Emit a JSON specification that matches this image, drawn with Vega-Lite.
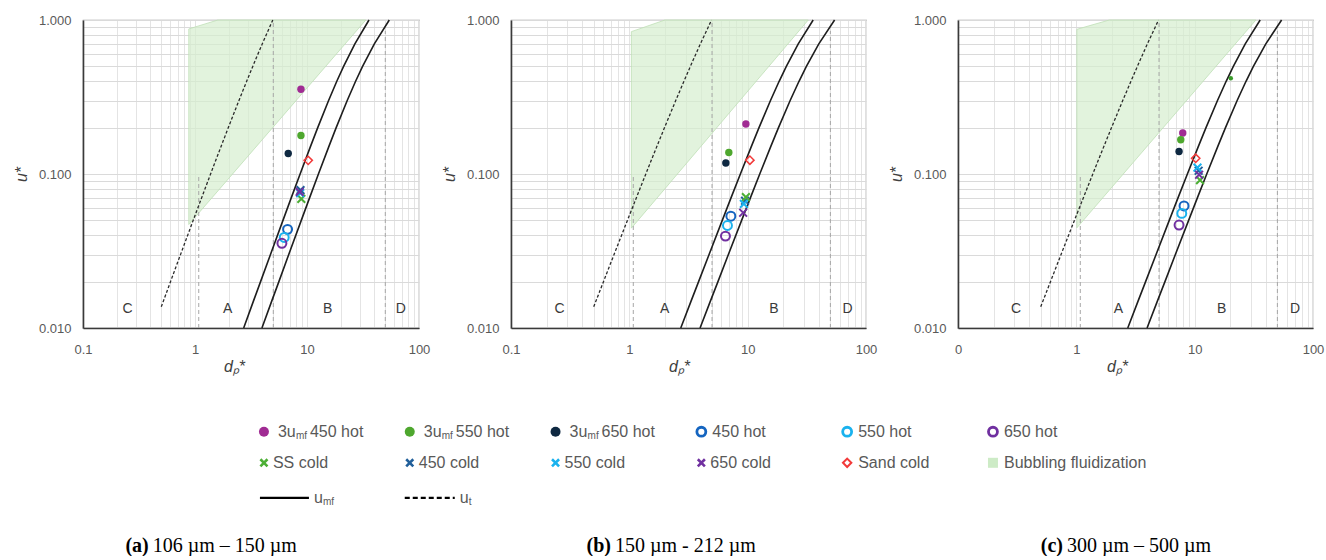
{
"$schema":"https://vega.github.io/schema/vega-lite/v6.json",
"background":"white",
"padding":{"left":12,"top":13,"right":0,"bottom":0},
"config":{
 "font":"Liberation Sans",
 "view":{"stroke":"#9a9a9a","strokeWidth":1.2},
 "legend":{"disable":true},
 "axis":{"labelFont":"Liberation Sans","labelFontSize":13,"labelColor":"#595959","titleFont":"Liberation Sans","titleFontSize":16,"titleFontStyle":"italic","titleFontWeight":"normal","titleColor":"#404040","ticks":false,"domainColor":"#3a3a3a","domainWidth":1.6,"gridColor":"#dadada","gridWidth":1,"labelOverlap":false,"labelFlush":false,"labelPadding":12},
 "axisX":{"titlePadding":2,"gridColor":"#e4e4e4","labelPadding":15},
 "axisY":{"titlePadding":9}
},
"datasets":{
 "pts":[
  {"p":"a","s":"3u_mf 450 hot","x":8.83,"y":0.355},
  {"p":"a","s":"3u_mf 550 hot","x":8.83,"y":0.178},
  {"p":"a","s":"3u_mf 650 hot","x":6.8,"y":0.136},
  {"p":"a","s":"450 hot","x":6.71,"y":0.0437},
  {"p":"a","s":"550 hot","x":6.26,"y":0.0387},
  {"p":"a","s":"650 hot","x":5.97,"y":0.0355},
  {"p":"a","s":"SS cold","x":8.9,"y":0.069},
  {"p":"a","s":"550 cold","x":8.7,"y":0.075},
  {"p":"a","s":"450 cold","x":8.75,"y":0.0785},
  {"p":"a","s":"650 cold","x":8.6,"y":0.0765},
  {"p":"a","s":"Sand cold","x":10.25,"y":0.1226},
  {"p":"b","s":"3u_mf 450 hot","x":9.66,"y":0.211},
  {"p":"b","s":"3u_mf 550 hot","x":6.93,"y":0.138},
  {"p":"b","s":"3u_mf 650 hot","x":6.54,"y":0.118},
  {"p":"b","s":"450 hot","x":7.21,"y":0.0532},
  {"p":"b","s":"550 hot","x":6.75,"y":0.0463},
  {"p":"b","s":"650 hot","x":6.49,"y":0.0395},
  {"p":"b","s":"450 cold","x":9.5,"y":0.067},
  {"p":"b","s":"SS cold","x":9.66,"y":0.0708},
  {"p":"b","s":"550 cold","x":9.29,"y":0.064},
  {"p":"b","s":"650 cold","x":9.16,"y":0.056},
  {"p":"b","s":"Sand cold","x":10.44,"y":0.123},
  {"p":"c","s":"3u_mf 450 hot","x":7.93,"y":0.1845},
  {"p":"c","s":"3u_mf 550 hot","x":7.63,"y":0.167},
  {"p":"c","s":"3u_mf 650 hot","x":7.38,"y":0.14},
  {"p":"c","s":"450 hot","x":8.13,"y":0.062},
  {"p":"c","s":"550 hot","x":7.78,"y":0.0555},
  {"p":"c","s":"650 hot","x":7.38,"y":0.0466},
  {"p":"c","s":"SS cold","x":11.1,"y":0.0912},
  {"p":"c","s":"450 cold","x":10.8,"y":0.105},
  {"p":"c","s":"550 cold","x":10.56,"y":0.11},
  {"p":"c","s":"650 cold","x":10.9,"y":0.0989},
  {"p":"c","s":"Sand cold","x":10.2,"y":0.1265},
  {"p":"c","s":"SS small","x":20.2,"y":0.418}
 ],
 "lines":[
  {"c":"mf1","x":2.72,"y":0.01},{"c":"mf1","x":3.33,"y":0.015},{"c":"mf1","x":3.85,"y":0.02},{"c":"mf1","x":4.72,"y":0.03},{"c":"mf1","x":6.1,"y":0.05},{"c":"mf1","x":7.23,"y":0.07},{"c":"mf1","x":8.68,"y":0.1},{"c":"mf1","x":10.71,"y":0.15},{"c":"mf1","x":12.47,"y":0.2},{"c":"mf1","x":15.59,"y":0.3},{"c":"mf1","x":18.45,"y":0.4},{"c":"mf1","x":21.22,"y":0.5},{"c":"mf1","x":26.76,"y":0.7},{"c":"mf1","x":35.78,"y":1.0},
  {"c":"mf2","x":3.96,"y":0.01},{"c":"mf2","x":4.85,"y":0.015},{"c":"mf2","x":5.61,"y":0.02},{"c":"mf2","x":6.87,"y":0.03},{"c":"mf2","x":8.89,"y":0.05},{"c":"mf2","x":10.54,"y":0.07},{"c":"mf2","x":12.65,"y":0.1},{"c":"mf2","x":15.63,"y":0.15},{"c":"mf2","x":18.22,"y":0.2},{"c":"mf2","x":22.86,"y":0.3},{"c":"mf2","x":27.16,"y":0.4},{"c":"mf2","x":31.35,"y":0.5},{"c":"mf2","x":39.93,"y":0.7},{"c":"mf2","x":54.28,"y":1.0},
  {"c":"ut","x":0.5,"y":0.01373},{"c":"ut","x":0.7,"y":0.02671},{"c":"ut","x":1,"y":0.0538},{"c":"ut","x":1.5,"y":0.1179},{"c":"ut","x":2,"y":0.2033},{"c":"ut","x":2.5,"y":0.3073},{"c":"ut","x":3,"y":0.4271},{"c":"ut","x":3.5,"y":0.56},{"c":"ut","x":4,"y":0.704},{"c":"ut","x":4.95,"y":1.0}
 ],
 "area":[
  {"p":"a","x":0.88,"y":0.875,"y2":0.047},{"p":"a","x":1.6,"y":1.0,"y2":0.0776},{"p":"a","x":33.5,"y":1.0,"y2":1.0},
  {"p":"b","x":1.04,"y":0.84,"y2":0.0445},{"p":"b","x":2.0,"y":1.0,"y2":0.0803},{"p":"b","x":32.5,"y":1.0,"y2":1.0},
  {"p":"c","x":1.01,"y":0.87,"y2":0.0447},{"p":"c","x":1.9,"y":1.0,"y2":0.0785},{"p":"c","x":32.9,"y":1.0,"y2":1.0}
 ],
 "vl":[{"x":1.08,"y":0.01,"y2":0.1},{"x":5,"y":0.01,"y2":1},{"x":50,"y":0.01,"y2":0.85}],
 "let":[
  {"p":"a","t":"C","x":0.25,"y":0.0133},{"p":"a","t":"A","x":1.96,"y":0.0133},{"p":"a","t":"B","x":15.3,"y":0.0133},{"p":"a","t":"D","x":68.7,"y":0.0133},
  {"p":"b","t":"C","x":0.257,"y":0.0133},{"p":"b","t":"A","x":1.99,"y":0.0133},{"p":"b","t":"B","x":16.7,"y":0.0133},{"p":"b","t":"D","x":70,"y":0.0133},
  {"p":"c","t":"C","x":0.31,"y":0.0133},{"p":"c","t":"A","x":2.27,"y":0.0133},{"p":"c","t":"B","x":16.9,"y":0.0133},{"p":"c","t":"D","x":70.6,"y":0.0133}
 ],
 "leg":[
  {"row":0,"col":0,"s":"3u_mf 450 hot","pre":"3u","sub":"mf","post":"450 hot"},
  {"row":0,"col":1,"s":"3u_mf 550 hot","pre":"3u","sub":"mf","post":"550 hot"},
  {"row":0,"col":2,"s":"3u_mf 650 hot","pre":"3u","sub":"mf","post":"650 hot"},
  {"row":0,"col":3,"s":"450 hot","pre":"450 hot"},
  {"row":0,"col":4,"s":"550 hot","pre":"550 hot"},
  {"row":0,"col":5,"s":"650 hot","pre":"650 hot"},
  {"row":0.94,"col":0,"s":"SS cold","pre":"SS cold"},
  {"row":0.94,"col":1,"s":"450 cold","pre":"450 cold"},
  {"row":0.94,"col":2,"s":"550 cold","pre":"550 cold"},
  {"row":0.94,"col":3,"s":"650 cold","pre":"650 cold"},
  {"row":0.94,"col":4,"s":"Sand cold","pre":"Sand cold"},
  {"row":0.94,"col":5,"s":"Bubbling fluidization","pre":"Bubbling fluidization"},
  {"row":2,"col":0,"s":"u_mf","pre":"u","sub":"mf"},
  {"row":2,"col":1,"s":"u_t","pre":"u","sub":"t"}
 ],
 "cap":[
  {"col":-0.79,"row":3.45,"a":"(a)","r":"106 µm – 150 µm"},
  {"col":2.38,"row":3.45,"a":"(b)","r":"150 µm  - 212 µm"},
  {"col":5.48,"row":3.45,"a":"(c)","r":" 300 µm – 500 µm"}
 ]
},
"vconcat":[
 {"hconcat":[
  {"width":336,"height":308,"layer":[
   {"data":{"name":"area"},"transform":[{"filter":"datum.p=='a'"}],"mark":{"type":"area","fill":"#d6eecf","fillOpacity":0.7,"stroke":"#bfe0b6","strokeWidth":0.8},
    "encoding":{"x":{"field":"x","type":"quantitative","scale":{"type":"log","domain":[0.1,100],"nice":false},"axis":{"title":"dₚ*","titleX":151,"values":[0.1,0.2,0.3,0.4,0.5,0.6,0.7,0.8,0.9,1,2,3,4,5,6,7,8,9,10,20,30,40,50,60,70,80,90,100],"labelExpr":"(datum.value==0.1||datum.value==1||datum.value==10||datum.value==100)?format(datum.value,'~g'):''"}},
     "y":{"field":"y","type":"quantitative","scale":{"type":"log","domain":[0.01,1],"nice":false},"axis":{"title":"u*","values":[0.01,0.02,0.03,0.04,0.05,0.06,0.07,0.08,0.09,0.1,0.2,0.3,0.4,0.5,0.6,0.7,0.8,0.9,1],"labelExpr":"(datum.value==0.01||datum.value==0.1||datum.value==1)?format(datum.value,'.3f'):''"}},
     "y2":{"field":"y2"}}},
   {"data":{"name":"vl"},"mark":{"type":"rule","color":"#a6a6a6","strokeDash":[4,3],"strokeWidth":1},"encoding":{"x":{"field":"x","type":"quantitative","scale":{"type":"log","domain":[0.1,100],"nice":false}},"y":{"field":"y","type":"quantitative","scale":{"type":"log","domain":[0.01,1],"nice":false}},"y2":{"field":"y2"}}},
   {"data":{"name":"lines"},"transform":[{"filter":"datum.c!='ut'"}],"mark":{"type":"line","color":"#1e1e1e","strokeWidth":1.6},"encoding":{"x":{"field":"x","type":"quantitative","scale":{"type":"log","domain":[0.1,100],"nice":false}},"y":{"field":"y","type":"quantitative","scale":{"type":"log","domain":[0.01,1],"nice":false}},"detail":{"field":"c"}}},
   {"data":{"name":"lines"},"transform":[{"filter":"datum.c=='ut'"}],"mark":{"type":"line","color":"#2a2a2a","strokeWidth":1.3,"strokeDash":[3,2]},"encoding":{"x":{"field":"x","type":"quantitative","scale":{"type":"log","domain":[0.1,100],"nice":false}},"y":{"field":"y","type":"quantitative","scale":{"type":"log","domain":[0.01,1],"nice":false}}}},
   {"data":{"name":"let"},"transform":[{"filter":"datum.p=='a'"}],"mark":{"type":"text","fontSize":14,"color":"#3a3a3a","font":"Liberation Sans"},"encoding":{"x":{"field":"x","type":"quantitative","scale":{"type":"log","domain":[0.1,100],"nice":false}},"y":{"field":"y","type":"quantitative","scale":{"type":"log","domain":[0.01,1],"nice":false}},"text":{"field":"t"}}},
   {"data":{"name":"pts"},"transform":[{"filter":"datum.p=='a' && indexof(['3u_mf 450 hot','3u_mf 550 hot','3u_mf 650 hot'],datum.s)>=0"}],"mark":{"type":"point","shape":"circle","filled":true,"size":55,"opacity":1},"encoding":{"x":{"field":"x","type":"quantitative","scale":{"type":"log","domain":[0.1,100],"nice":false}},"y":{"field":"y","type":"quantitative","scale":{"type":"log","domain":[0.01,1],"nice":false}},"color":{"field":"s","type":"nominal","scale":{"domain":["3u_mf 450 hot","3u_mf 550 hot","3u_mf 650 hot","450 hot","550 hot","650 hot","SS cold","450 cold","550 cold","650 cold","Sand cold","Bubbling fluidization","u_mf","u_t","SS small"],"range":["#a02b93","#4ea72e","#0e2841","#1565c0","#1ab2ee","#7030a0","#4caf35","#215f9a","#1ab2ee","#7030a0","#f23a3a","#cdebc6","#000000","#000000","#3a9a2a"]},"legend":null}}},
   {"data":{"name":"pts"},"transform":[{"filter":"datum.p=='a' && indexof(['450 hot','550 hot','650 hot'],datum.s)>=0"}],"mark":{"type":"point","shape":"circle","filled":false,"size":80,"strokeWidth":2,"opacity":1},"encoding":{"x":{"field":"x","type":"quantitative","scale":{"type":"log","domain":[0.1,100],"nice":false}},"y":{"field":"y","type":"quantitative","scale":{"type":"log","domain":[0.01,1],"nice":false}},"color":{"field":"s","type":"nominal","scale":{"domain":["3u_mf 450 hot","3u_mf 550 hot","3u_mf 650 hot","450 hot","550 hot","650 hot","SS cold","450 cold","550 cold","650 cold","Sand cold","Bubbling fluidization","u_mf","u_t","SS small"],"range":["#a02b93","#4ea72e","#0e2841","#1565c0","#1ab2ee","#7030a0","#4caf35","#215f9a","#1ab2ee","#7030a0","#f23a3a","#cdebc6","#000000","#000000","#3a9a2a"]},"legend":null}}},
   {"data":{"name":"pts"},"transform":[{"filter":"datum.p=='a' && indexof(['SS cold','450 cold','550 cold','650 cold'],datum.s)>=0"}],"mark":{"type":"point","shape":"M-1,-1L1,1M-1,1L1,-1","filled":false,"size":60,"strokeWidth":2,"opacity":1},"encoding":{"x":{"field":"x","type":"quantitative","scale":{"type":"log","domain":[0.1,100],"nice":false}},"y":{"field":"y","type":"quantitative","scale":{"type":"log","domain":[0.01,1],"nice":false}},"color":{"field":"s","type":"nominal","scale":{"domain":["3u_mf 450 hot","3u_mf 550 hot","3u_mf 650 hot","450 hot","550 hot","650 hot","SS cold","450 cold","550 cold","650 cold","Sand cold","Bubbling fluidization","u_mf","u_t","SS small"],"range":["#a02b93","#4ea72e","#0e2841","#1565c0","#1ab2ee","#7030a0","#4caf35","#215f9a","#1ab2ee","#7030a0","#f23a3a","#cdebc6","#000000","#000000","#3a9a2a"]},"legend":null}}},
   {"data":{"name":"pts"},"transform":[{"filter":"datum.p=='a' && datum.s=='Sand cold'"}],"mark":{"type":"point","shape":"diamond","filled":false,"size":70,"strokeWidth":1.5,"opacity":1},"encoding":{"x":{"field":"x","type":"quantitative","scale":{"type":"log","domain":[0.1,100],"nice":false}},"y":{"field":"y","type":"quantitative","scale":{"type":"log","domain":[0.01,1],"nice":false}},"color":{"field":"s","type":"nominal","scale":{"domain":["3u_mf 450 hot","3u_mf 550 hot","3u_mf 650 hot","450 hot","550 hot","650 hot","SS cold","450 cold","550 cold","650 cold","Sand cold","Bubbling fluidization","u_mf","u_t","SS small"],"range":["#a02b93","#4ea72e","#0e2841","#1565c0","#1ab2ee","#7030a0","#4caf35","#215f9a","#1ab2ee","#7030a0","#f23a3a","#cdebc6","#000000","#000000","#3a9a2a"]},"legend":null}}}
  ]},
  {"width":355,"height":308,"layer":[
   {"data":{"name":"area"},"transform":[{"filter":"datum.p=='b'"}],"mark":{"type":"area","fill":"#d6eecf","fillOpacity":0.7,"stroke":"#bfe0b6","strokeWidth":0.8},
    "encoding":{"x":{"field":"x","type":"quantitative","scale":{"type":"log","domain":[0.1,100],"nice":false},"axis":{"title":"dₚ*","titleX":168,"values":[0.1,0.2,0.3,0.4,0.5,0.6,0.7,0.8,0.9,1,2,3,4,5,6,7,8,9,10,20,30,40,50,60,70,80,90,100],"labelExpr":"(datum.value==0.1||datum.value==1||datum.value==10||datum.value==100)?format(datum.value,'~g'):''"}},
     "y":{"field":"y","type":"quantitative","scale":{"type":"log","domain":[0.01,1],"nice":false},"axis":{"title":"u*","values":[0.01,0.02,0.03,0.04,0.05,0.06,0.07,0.08,0.09,0.1,0.2,0.3,0.4,0.5,0.6,0.7,0.8,0.9,1],"labelExpr":"(datum.value==0.01||datum.value==0.1||datum.value==1)?format(datum.value,'.3f'):''"}},
     "y2":{"field":"y2"}}},
   {"data":{"name":"vl"},"mark":{"type":"rule","color":"#a6a6a6","strokeDash":[4,3],"strokeWidth":1},"encoding":{"x":{"field":"x","type":"quantitative","scale":{"type":"log","domain":[0.1,100],"nice":false}},"y":{"field":"y","type":"quantitative","scale":{"type":"log","domain":[0.01,1],"nice":false}},"y2":{"field":"y2"}}},
   {"data":{"name":"lines"},"transform":[{"filter":"datum.c!='ut'"}],"mark":{"type":"line","color":"#1e1e1e","strokeWidth":1.6},"encoding":{"x":{"field":"x","type":"quantitative","scale":{"type":"log","domain":[0.1,100],"nice":false}},"y":{"field":"y","type":"quantitative","scale":{"type":"log","domain":[0.01,1],"nice":false}},"detail":{"field":"c"}}},
   {"data":{"name":"lines"},"transform":[{"filter":"datum.c=='ut'"}],"mark":{"type":"line","color":"#2a2a2a","strokeWidth":1.3,"strokeDash":[3,2]},"encoding":{"x":{"field":"x","type":"quantitative","scale":{"type":"log","domain":[0.1,100],"nice":false}},"y":{"field":"y","type":"quantitative","scale":{"type":"log","domain":[0.01,1],"nice":false}}}},
   {"data":{"name":"let"},"transform":[{"filter":"datum.p=='b'"}],"mark":{"type":"text","fontSize":14,"color":"#3a3a3a","font":"Liberation Sans"},"encoding":{"x":{"field":"x","type":"quantitative","scale":{"type":"log","domain":[0.1,100],"nice":false}},"y":{"field":"y","type":"quantitative","scale":{"type":"log","domain":[0.01,1],"nice":false}},"text":{"field":"t"}}},
   {"data":{"name":"pts"},"transform":[{"filter":"datum.p=='b' && indexof(['3u_mf 450 hot','3u_mf 550 hot','3u_mf 650 hot'],datum.s)>=0"}],"mark":{"type":"point","shape":"circle","filled":true,"size":55,"opacity":1},"encoding":{"x":{"field":"x","type":"quantitative","scale":{"type":"log","domain":[0.1,100],"nice":false}},"y":{"field":"y","type":"quantitative","scale":{"type":"log","domain":[0.01,1],"nice":false}},"color":{"field":"s","type":"nominal","scale":{"domain":["3u_mf 450 hot","3u_mf 550 hot","3u_mf 650 hot","450 hot","550 hot","650 hot","SS cold","450 cold","550 cold","650 cold","Sand cold","Bubbling fluidization","u_mf","u_t","SS small"],"range":["#a02b93","#4ea72e","#0e2841","#1565c0","#1ab2ee","#7030a0","#4caf35","#215f9a","#1ab2ee","#7030a0","#f23a3a","#cdebc6","#000000","#000000","#3a9a2a"]},"legend":null}}},
   {"data":{"name":"pts"},"transform":[{"filter":"datum.p=='b' && indexof(['450 hot','550 hot','650 hot'],datum.s)>=0"}],"mark":{"type":"point","shape":"circle","filled":false,"size":80,"strokeWidth":2,"opacity":1},"encoding":{"x":{"field":"x","type":"quantitative","scale":{"type":"log","domain":[0.1,100],"nice":false}},"y":{"field":"y","type":"quantitative","scale":{"type":"log","domain":[0.01,1],"nice":false}},"color":{"field":"s","type":"nominal","scale":{"domain":["3u_mf 450 hot","3u_mf 550 hot","3u_mf 650 hot","450 hot","550 hot","650 hot","SS cold","450 cold","550 cold","650 cold","Sand cold","Bubbling fluidization","u_mf","u_t","SS small"],"range":["#a02b93","#4ea72e","#0e2841","#1565c0","#1ab2ee","#7030a0","#4caf35","#215f9a","#1ab2ee","#7030a0","#f23a3a","#cdebc6","#000000","#000000","#3a9a2a"]},"legend":null}}},
   {"data":{"name":"pts"},"transform":[{"filter":"datum.p=='b' && indexof(['SS cold','450 cold','550 cold','650 cold'],datum.s)>=0"}],"mark":{"type":"point","shape":"M-1,-1L1,1M-1,1L1,-1","filled":false,"size":60,"strokeWidth":2,"opacity":1},"encoding":{"x":{"field":"x","type":"quantitative","scale":{"type":"log","domain":[0.1,100],"nice":false}},"y":{"field":"y","type":"quantitative","scale":{"type":"log","domain":[0.01,1],"nice":false}},"color":{"field":"s","type":"nominal","scale":{"domain":["3u_mf 450 hot","3u_mf 550 hot","3u_mf 650 hot","450 hot","550 hot","650 hot","SS cold","450 cold","550 cold","650 cold","Sand cold","Bubbling fluidization","u_mf","u_t","SS small"],"range":["#a02b93","#4ea72e","#0e2841","#1565c0","#1ab2ee","#7030a0","#4caf35","#215f9a","#1ab2ee","#7030a0","#f23a3a","#cdebc6","#000000","#000000","#3a9a2a"]},"legend":null}}},
   {"data":{"name":"pts"},"transform":[{"filter":"datum.p=='b' && datum.s=='Sand cold'"}],"mark":{"type":"point","shape":"diamond","filled":false,"size":70,"strokeWidth":1.5,"opacity":1},"encoding":{"x":{"field":"x","type":"quantitative","scale":{"type":"log","domain":[0.1,100],"nice":false}},"y":{"field":"y","type":"quantitative","scale":{"type":"log","domain":[0.01,1],"nice":false}},"color":{"field":"s","type":"nominal","scale":{"domain":["3u_mf 450 hot","3u_mf 550 hot","3u_mf 650 hot","450 hot","550 hot","650 hot","SS cold","450 cold","550 cold","650 cold","Sand cold","Bubbling fluidization","u_mf","u_t","SS small"],"range":["#a02b93","#4ea72e","#0e2841","#1565c0","#1ab2ee","#7030a0","#4caf35","#215f9a","#1ab2ee","#7030a0","#f23a3a","#cdebc6","#000000","#000000","#3a9a2a"]},"legend":null}}}
  ]},
  {"width":355,"height":308,"layer":[
   {"data":{"name":"area"},"transform":[{"filter":"datum.p=='c'"}],"mark":{"type":"area","fill":"#d6eecf","fillOpacity":0.7,"stroke":"#bfe0b6","strokeWidth":0.8},
    "encoding":{"x":{"field":"x","type":"quantitative","scale":{"type":"log","domain":[0.1,100],"nice":false},"axis":{"title":"dₚ*","titleX":159,"values":[0.1,0.2,0.3,0.4,0.5,0.6,0.7,0.8,0.9,1,2,3,4,5,6,7,8,9,10,20,30,40,50,60,70,80,90,100],"labelExpr":"datum.value==0.1?'0':((datum.value==1||datum.value==10||datum.value==100)?format(datum.value,'~g'):'')"}},
     "y":{"field":"y","type":"quantitative","scale":{"type":"log","domain":[0.01,1],"nice":false},"axis":{"title":"u*","values":[0.01,0.02,0.03,0.04,0.05,0.06,0.07,0.08,0.09,0.1,0.2,0.3,0.4,0.5,0.6,0.7,0.8,0.9,1],"labelExpr":"(datum.value==0.01||datum.value==0.1||datum.value==1)?format(datum.value,'.3f'):''"}},
     "y2":{"field":"y2"}}},
   {"data":{"name":"vl"},"mark":{"type":"rule","color":"#a6a6a6","strokeDash":[4,3],"strokeWidth":1},"encoding":{"x":{"field":"x","type":"quantitative","scale":{"type":"log","domain":[0.1,100],"nice":false}},"y":{"field":"y","type":"quantitative","scale":{"type":"log","domain":[0.01,1],"nice":false}},"y2":{"field":"y2"}}},
   {"data":{"name":"lines"},"transform":[{"filter":"datum.c!='ut'"}],"mark":{"type":"line","color":"#1e1e1e","strokeWidth":1.6},"encoding":{"x":{"field":"x","type":"quantitative","scale":{"type":"log","domain":[0.1,100],"nice":false}},"y":{"field":"y","type":"quantitative","scale":{"type":"log","domain":[0.01,1],"nice":false}},"detail":{"field":"c"}}},
   {"data":{"name":"lines"},"transform":[{"filter":"datum.c=='ut'"}],"mark":{"type":"line","color":"#2a2a2a","strokeWidth":1.3,"strokeDash":[3,2]},"encoding":{"x":{"field":"x","type":"quantitative","scale":{"type":"log","domain":[0.1,100],"nice":false}},"y":{"field":"y","type":"quantitative","scale":{"type":"log","domain":[0.01,1],"nice":false}}}},
   {"data":{"name":"let"},"transform":[{"filter":"datum.p=='c'"}],"mark":{"type":"text","fontSize":14,"color":"#3a3a3a","font":"Liberation Sans"},"encoding":{"x":{"field":"x","type":"quantitative","scale":{"type":"log","domain":[0.1,100],"nice":false}},"y":{"field":"y","type":"quantitative","scale":{"type":"log","domain":[0.01,1],"nice":false}},"text":{"field":"t"}}},
   {"data":{"name":"pts"},"transform":[{"filter":"datum.p=='c' && indexof(['3u_mf 450 hot','3u_mf 550 hot','3u_mf 650 hot'],datum.s)>=0"}],"mark":{"type":"point","shape":"circle","filled":true,"size":55,"opacity":1},"encoding":{"x":{"field":"x","type":"quantitative","scale":{"type":"log","domain":[0.1,100],"nice":false}},"y":{"field":"y","type":"quantitative","scale":{"type":"log","domain":[0.01,1],"nice":false}},"color":{"field":"s","type":"nominal","scale":{"domain":["3u_mf 450 hot","3u_mf 550 hot","3u_mf 650 hot","450 hot","550 hot","650 hot","SS cold","450 cold","550 cold","650 cold","Sand cold","Bubbling fluidization","u_mf","u_t","SS small"],"range":["#a02b93","#4ea72e","#0e2841","#1565c0","#1ab2ee","#7030a0","#4caf35","#215f9a","#1ab2ee","#7030a0","#f23a3a","#cdebc6","#000000","#000000","#3a9a2a"]},"legend":null}}},
   {"data":{"name":"pts"},"transform":[{"filter":"datum.p=='c' && datum.s=='SS small'"}],"mark":{"type":"point","shape":"circle","filled":true,"size":20,"opacity":1},"encoding":{"x":{"field":"x","type":"quantitative","scale":{"type":"log","domain":[0.1,100],"nice":false}},"y":{"field":"y","type":"quantitative","scale":{"type":"log","domain":[0.01,1],"nice":false}},"color":{"field":"s","type":"nominal","scale":{"domain":["3u_mf 450 hot","3u_mf 550 hot","3u_mf 650 hot","450 hot","550 hot","650 hot","SS cold","450 cold","550 cold","650 cold","Sand cold","Bubbling fluidization","u_mf","u_t","SS small"],"range":["#a02b93","#4ea72e","#0e2841","#1565c0","#1ab2ee","#7030a0","#4caf35","#215f9a","#1ab2ee","#7030a0","#f23a3a","#cdebc6","#000000","#000000","#3a9a2a"]},"legend":null}}},
   {"data":{"name":"pts"},"transform":[{"filter":"datum.p=='c' && indexof(['450 hot','550 hot','650 hot'],datum.s)>=0"}],"mark":{"type":"point","shape":"circle","filled":false,"size":80,"strokeWidth":2,"opacity":1},"encoding":{"x":{"field":"x","type":"quantitative","scale":{"type":"log","domain":[0.1,100],"nice":false}},"y":{"field":"y","type":"quantitative","scale":{"type":"log","domain":[0.01,1],"nice":false}},"color":{"field":"s","type":"nominal","scale":{"domain":["3u_mf 450 hot","3u_mf 550 hot","3u_mf 650 hot","450 hot","550 hot","650 hot","SS cold","450 cold","550 cold","650 cold","Sand cold","Bubbling fluidization","u_mf","u_t","SS small"],"range":["#a02b93","#4ea72e","#0e2841","#1565c0","#1ab2ee","#7030a0","#4caf35","#215f9a","#1ab2ee","#7030a0","#f23a3a","#cdebc6","#000000","#000000","#3a9a2a"]},"legend":null}}},
   {"data":{"name":"pts"},"transform":[{"filter":"datum.p=='c' && indexof(['SS cold','450 cold','550 cold','650 cold'],datum.s)>=0"}],"mark":{"type":"point","shape":"M-1,-1L1,1M-1,1L1,-1","filled":false,"size":60,"strokeWidth":2,"opacity":1},"encoding":{"x":{"field":"x","type":"quantitative","scale":{"type":"log","domain":[0.1,100],"nice":false}},"y":{"field":"y","type":"quantitative","scale":{"type":"log","domain":[0.01,1],"nice":false}},"color":{"field":"s","type":"nominal","scale":{"domain":["3u_mf 450 hot","3u_mf 550 hot","3u_mf 650 hot","450 hot","550 hot","650 hot","SS cold","450 cold","550 cold","650 cold","Sand cold","Bubbling fluidization","u_mf","u_t","SS small"],"range":["#a02b93","#4ea72e","#0e2841","#1565c0","#1ab2ee","#7030a0","#4caf35","#215f9a","#1ab2ee","#7030a0","#f23a3a","#cdebc6","#000000","#000000","#3a9a2a"]},"legend":null}}},
   {"data":{"name":"pts"},"transform":[{"filter":"datum.p=='c' && datum.s=='Sand cold'"}],"mark":{"type":"point","shape":"diamond","filled":false,"size":70,"strokeWidth":1.5,"opacity":1},"encoding":{"x":{"field":"x","type":"quantitative","scale":{"type":"log","domain":[0.1,100],"nice":false}},"y":{"field":"y","type":"quantitative","scale":{"type":"log","domain":[0.01,1],"nice":false}},"color":{"field":"s","type":"nominal","scale":{"domain":["3u_mf 450 hot","3u_mf 550 hot","3u_mf 650 hot","450 hot","550 hot","650 hot","SS cold","450 cold","550 cold","650 cold","Sand cold","Bubbling fluidization","u_mf","u_t","SS small"],"range":["#a02b93","#4ea72e","#0e2841","#1565c0","#1ab2ee","#7030a0","#4caf35","#215f9a","#1ab2ee","#7030a0","#f23a3a","#cdebc6","#000000","#000000","#3a9a2a"]},"legend":null}}}
  ]}
 ],"spacing":9},
 {"width":1230,"height":152,"view":{"stroke":null},
  "encoding":{"x":{"field":"col","type":"quantitative","scale":{"domain":[-1.241,7.195],"nice":false,"zero":false},"axis":null},"y":{"field":"row","type":"quantitative","scale":{"domain":[-0.9,3.7],"nice":false,"zero":false,"reverse":true},"axis":null}},
  "layer":[
   {"data":{"name":"leg"},"transform":[{"filter":"indexof(['3u_mf 450 hot','3u_mf 550 hot','3u_mf 650 hot'],datum.s)>=0"}],"mark":{"type":"point","shape":"circle","filled":true,"size":100,"opacity":1},"encoding":{"color":{"field":"s","type":"nominal","scale":{"domain":["3u_mf 450 hot","3u_mf 550 hot","3u_mf 650 hot","450 hot","550 hot","650 hot","SS cold","450 cold","550 cold","650 cold","Sand cold","Bubbling fluidization","u_mf","u_t","SS small"],"range":["#a02b93","#4ea72e","#0e2841","#1565c0","#1ab2ee","#7030a0","#4caf35","#215f9a","#1ab2ee","#7030a0","#f23a3a","#cdebc6","#000000","#000000","#3a9a2a"]},"legend":null}}},
   {"data":{"name":"leg"},"transform":[{"filter":"indexof(['450 hot','550 hot','650 hot'],datum.s)>=0"}],"mark":{"type":"point","shape":"circle","filled":false,"size":80,"strokeWidth":2.8,"opacity":1},"encoding":{"color":{"field":"s","type":"nominal","scale":{"domain":["3u_mf 450 hot","3u_mf 550 hot","3u_mf 650 hot","450 hot","550 hot","650 hot","SS cold","450 cold","550 cold","650 cold","Sand cold","Bubbling fluidization","u_mf","u_t","SS small"],"range":["#a02b93","#4ea72e","#0e2841","#1565c0","#1ab2ee","#7030a0","#4caf35","#215f9a","#1ab2ee","#7030a0","#f23a3a","#cdebc6","#000000","#000000","#3a9a2a"]},"legend":null}}},
   {"data":{"name":"leg"},"transform":[{"filter":"indexof(['SS cold','450 cold','550 cold','650 cold'],datum.s)>=0"}],"mark":{"type":"point","shape":"M-1,-1L1,1M-1,1L1,-1","filled":false,"size":50,"strokeWidth":2.6,"opacity":1},"encoding":{"color":{"field":"s","type":"nominal","scale":{"domain":["3u_mf 450 hot","3u_mf 550 hot","3u_mf 650 hot","450 hot","550 hot","650 hot","SS cold","450 cold","550 cold","650 cold","Sand cold","Bubbling fluidization","u_mf","u_t","SS small"],"range":["#a02b93","#4ea72e","#0e2841","#1565c0","#1ab2ee","#7030a0","#4caf35","#215f9a","#1ab2ee","#7030a0","#f23a3a","#cdebc6","#000000","#000000","#3a9a2a"]},"legend":null}}},
   {"data":{"name":"leg"},"transform":[{"filter":"datum.s=='Sand cold'"}],"mark":{"type":"point","shape":"diamond","filled":false,"size":70,"strokeWidth":2,"opacity":1},"encoding":{"color":{"field":"s","type":"nominal","scale":{"domain":["3u_mf 450 hot","3u_mf 550 hot","3u_mf 650 hot","450 hot","550 hot","650 hot","SS cold","450 cold","550 cold","650 cold","Sand cold","Bubbling fluidization","u_mf","u_t","SS small"],"range":["#a02b93","#4ea72e","#0e2841","#1565c0","#1ab2ee","#7030a0","#4caf35","#215f9a","#1ab2ee","#7030a0","#f23a3a","#cdebc6","#000000","#000000","#3a9a2a"]},"legend":null}}},
   {"data":{"name":"leg"},"transform":[{"filter":"datum.s=='Bubbling fluidization'"}],"mark":{"type":"point","shape":"square","filled":true,"size":100,"opacity":1},"encoding":{"color":{"field":"s","type":"nominal","scale":{"domain":["3u_mf 450 hot","3u_mf 550 hot","3u_mf 650 hot","450 hot","550 hot","650 hot","SS cold","450 cold","550 cold","650 cold","Sand cold","Bubbling fluidization","u_mf","u_t","SS small"],"range":["#a02b93","#4ea72e","#0e2841","#1565c0","#1ab2ee","#7030a0","#4caf35","#215f9a","#1ab2ee","#7030a0","#f23a3a","#cdebc6","#000000","#000000","#3a9a2a"]},"legend":null}}},
   {"data":{"name":"leg"},"transform":[{"filter":"datum.s=='u_mf'"}],"mark":{"type":"point","shape":"M-0.16,0L1.8,0","filled":false,"size":2500,"strokeWidth":2.2,"opacity":1,"color":"#000000"}},
   {"data":{"name":"leg"},"transform":[{"filter":"datum.s=='u_t'"}],"mark":{"type":"point","shape":"M-0.2,0L1.8,0","filled":false,"size":2500,"strokeWidth":2.2,"strokeDash":[5,3],"opacity":1,"color":"#000000"}},
   {"data":{"name":"leg"},"transform":[{"filter":"indexof(['3u_mf 450 hot','3u_mf 550 hot','3u_mf 650 hot'],datum.s)>=0"}],"mark":{"type":"text","align":"left","baseline":"middle","dx":14,"fontSize":16,"font":"Liberation Sans","color":"#595959"},"encoding":{"text":{"field":"pre"}}},
   {"data":{"name":"leg"},"transform":[{"filter":"indexof(['3u_mf 450 hot','3u_mf 550 hot','3u_mf 650 hot'],datum.s)>=0"}],"mark":{"type":"text","align":"left","baseline":"middle","dx":32,"dy":4,"fontSize":10,"font":"Liberation Sans","color":"#595959"},"encoding":{"text":{"field":"sub"}}},
   {"data":{"name":"leg"},"transform":[{"filter":"indexof(['3u_mf 450 hot','3u_mf 550 hot','3u_mf 650 hot'],datum.s)>=0"}],"mark":{"type":"text","align":"left","baseline":"middle","dx":46,"fontSize":16,"font":"Liberation Sans","color":"#595959"},"encoding":{"text":{"field":"post"}}},
   {"data":{"name":"leg"},"transform":[{"filter":"indexof(['450 hot','550 hot','650 hot','Sand cold','Bubbling fluidization'],datum.s)>=0"}],"mark":{"type":"text","align":"left","baseline":"middle","dx":11,"fontSize":16,"font":"Liberation Sans","color":"#595959"},"encoding":{"text":{"field":"pre"}}},
   {"data":{"name":"leg"},"transform":[{"filter":"indexof(['SS cold','450 cold','550 cold','650 cold'],datum.s)>=0"}],"mark":{"type":"text","align":"left","baseline":"middle","dx":9,"fontSize":16,"font":"Liberation Sans","color":"#595959"},"encoding":{"text":{"field":"pre"}}},
   {"data":{"name":"leg"},"transform":[{"filter":"indexof(['u_mf','u_t'],datum.s)>=0"}],"mark":{"type":"text","align":"left","baseline":"middle","dx":50,"fontSize":16,"font":"Liberation Sans","color":"#595959"},"encoding":{"text":{"field":"pre"}}},
   {"data":{"name":"leg"},"transform":[{"filter":"indexof(['u_mf','u_t'],datum.s)>=0"}],"mark":{"type":"text","align":"left","baseline":"middle","dx":59,"dy":4,"fontSize":10,"font":"Liberation Sans","color":"#595959"},"encoding":{"text":{"field":"sub"}}},
   {"data":{"name":"cap"},"mark":{"type":"text","align":"right","baseline":"middle","fontSize":20,"font":"Liberation Serif","fontWeight":"bold","color":"#000000"},"encoding":{"text":{"field":"a"}}},
   {"data":{"name":"cap"},"mark":{"type":"text","align":"left","baseline":"middle","dx":4,"fontSize":20,"font":"Liberation Serif","color":"#000000"},"encoding":{"text":{"field":"r"}}}
  ]}
],
"spacing":27
}
